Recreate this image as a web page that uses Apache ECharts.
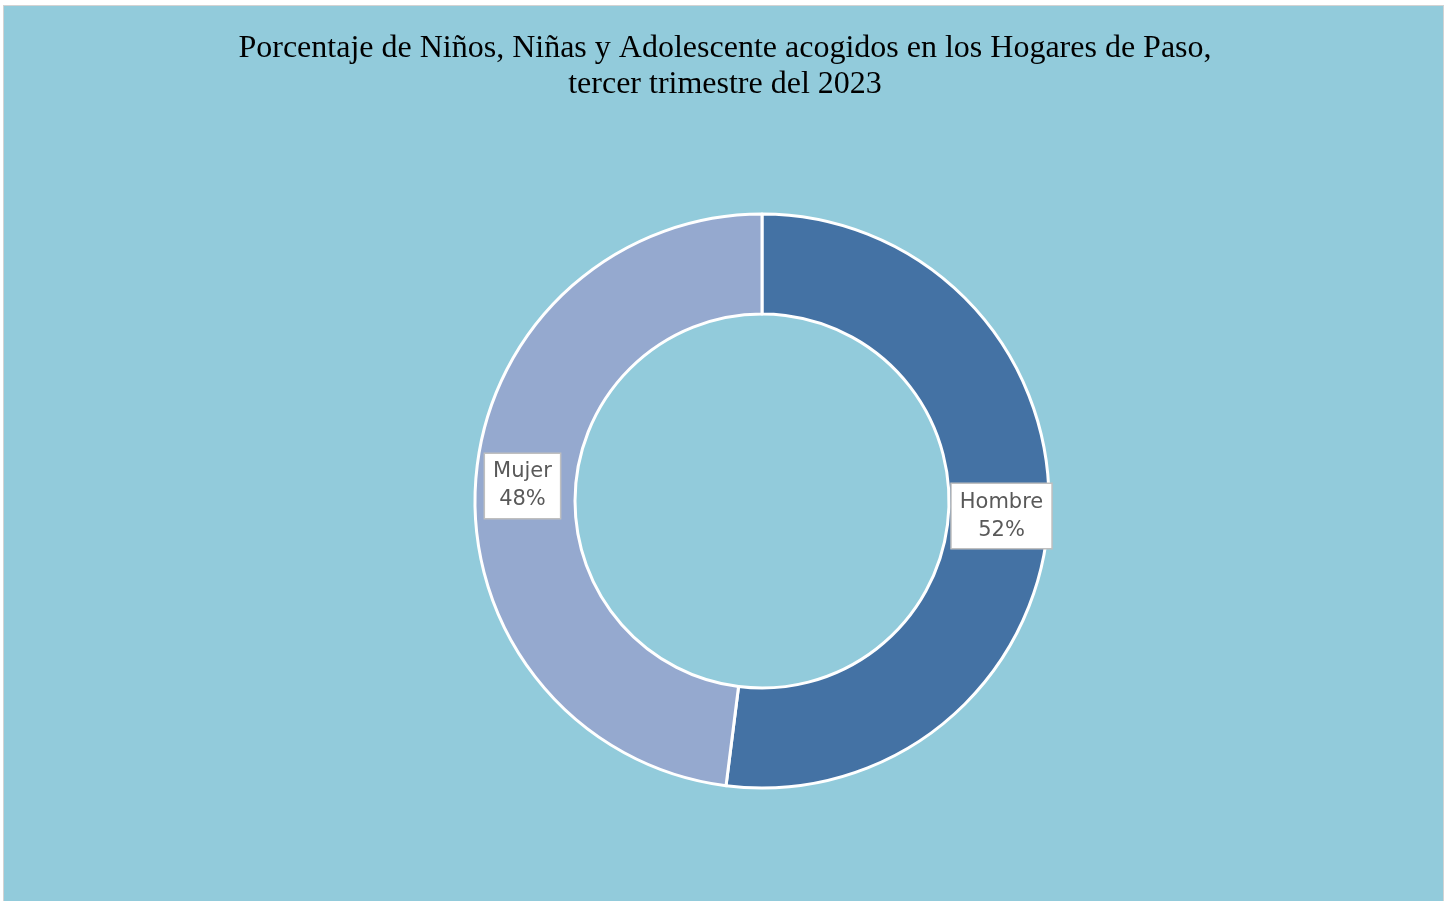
<!DOCTYPE html>
<html>
<head>
<meta charset="utf-8">
<script src="https://cdn.jsdelivr.net/npm/echarts@6/dist/echarts.min.js"></script>
<style>
  html, body { margin: 0; padding: 0; background: #ffffff; }
  #frame {
    position: absolute; left: 3px; top: 5px; width: 1441px; height: 900px;
    border: 1.5px solid #d3d3d3; background: #92cbdb; box-sizing: border-box;
  }
  #chart { position: absolute; left: 0; top: 0; width: 1450px; height: 901px; }
</style>
</head>
<body>
<div id="frame"></div>
<div id="chart"></div>
<script>
// datos del gráfico
const categories = ['Hombre', 'Mujer']
const values = [52, 48]
const colors = ['#4472a4', '#95a9cf']

const chart = echarts.init(document.getElementById('chart'), null, { renderer: 'canvas' })

const option = {
  backgroundColor: 'transparent',
  title: {
    text: 'Porcentaje de Niños, Niñas y Adolescente acogidos en los Hogares de Paso,\ntercer trimestre del 2023',
    left: 'center',
    top: 26,
    textStyle: {
      fontFamily: 'Liberation Serif',
      fontSize: 32,
      fontWeight: 'normal',
      color: '#000000',
      lineHeight: 36
    }
  },
  series: [
    {
      type: 'pie',
      center: [762, 501],
      radius: [187, 287],
      startAngle: 90,
      clockwise: true,
      avoidLabelOverlap: false,
      itemStyle: { borderColor: '#ffffff', borderWidth: 3 },
      label: {
        show: true,
        position: 'inside',
        formatter: p => p.name + '\n' + p.percent.toFixed(0) + '%',
        fontFamily: 'DejaVu Sans',
        fontSize: 21,
        color: '#595959',
        lineHeight: 28,
        backgroundColor: '#ffffff',
        borderColor: '#bfbfbf',
        borderWidth: 1.5,
        padding: [4, 8, 4, 8],
        align: 'center'
      },
      labelLine: { show: false },
      emphasis: { disabled: true },
      data: categories.map((c, i) => ({
        name: c,
        value: values[i],
        itemStyle: { color: colors[i] }
      }))
    }
  ]
}

chart.setOption(option)
</script>
</body>
</html>
